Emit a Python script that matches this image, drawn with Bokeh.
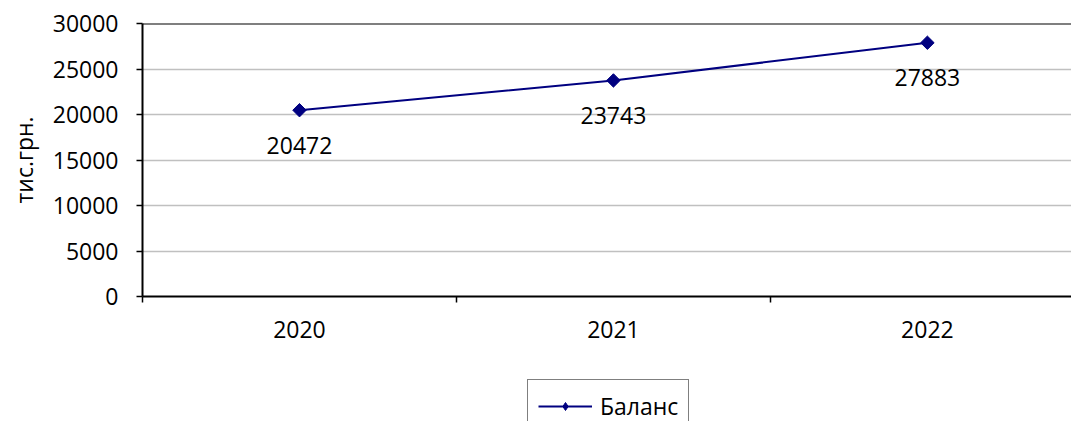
import math
from bokeh.plotting import figure
from bokeh.layouts import column
from bokeh.models import (Range1d, FixedTicker, ColumnDataSource, LabelSet,
                          Legend, LegendItem, Span)
from bokeh.core.properties import value
from bokeh.embed import file_html
from bokeh.resources import INLINE

years = ["2020", "2021", "2022"]
balance = [20472, 23743, 27883]
y_ticks = [0, 5000, 10000, 15000, 20000, 25000, 30000]
series_name = "Баланс"
y_label = "тис.грн."

FONT = "Open Sans"
FS = "23px"
LINE_C = "#000080"

xs = [i + 0.5 for i in range(len(years))]
src = ColumnDataSource(dict(x=xs, y=balance, lab=[str(v) for v in balance]))

p = figure(frame_width=929, frame_height=273, output_backend="svg", toolbar_location=None,
           x_range=Range1d(0, 2.959), y_range=Range1d(0, 30000),
           min_border_left=142, min_border_right=0, min_border_top=23,
           min_border_bottom=52)
p.outline_line_color = None
p.background_fill_color = "white"
p.border_fill_color = "white"

# grid
p.xgrid.visible = False
p.ygrid.ticker = FixedTicker(ticks=y_ticks)
p.ygrid.grid_line_color = "#c0c0c0"
p.ygrid.grid_line_width = 1.5

# top border
p.add_layout(Span(location=y_ticks[-1], dimension="width", line_color="black", line_width=2))

# x axis
xa = p.xaxis[0]
xa.ticker = FixedTicker(ticks=xs, minor_ticks=list(range(len(years) + 1)))
xa.major_label_overrides = {x: y for x, y in zip(xs, years)}
xa.major_tick_out = 0
xa.major_tick_in = 0
xa.minor_tick_out = 6
xa.minor_tick_in = 0
xa.minor_tick_line_color = "black"
xa.minor_tick_line_width = 1.5
xa.axis_line_color = "black"
xa.axis_line_width = 2
xa.major_label_text_font = FONT
xa.major_label_text_font_size = FS
xa.major_label_text_color = "black"
xa.major_label_standoff = 18

# y axis
ya = p.yaxis[0]
ya.ticker = FixedTicker(ticks=y_ticks)
ya.major_tick_out = 6
ya.major_tick_in = 0
ya.minor_tick_line_color = None
ya.major_tick_line_color = "black"
ya.major_tick_line_width = 1.5
ya.axis_line_color = "black"
ya.axis_line_width = 2
ya.major_label_text_font = FONT
ya.major_label_text_font_size = FS
ya.major_label_text_color = "black"
ya.major_label_standoff = 18
ya.axis_label = y_label
ya.axis_label_text_font = FONT
ya.axis_label_text_font_size = FS
ya.axis_label_text_font_style = "normal"
ya.axis_label_text_color = "black"
ya.axis_label_standoff = 10

ln = p.line("x", "y", source=src, line_color=LINE_C, line_width=2)
sc = p.scatter("x", "y", source=src, marker="square", size=9.5, angle=math.pi / 4,
               fill_color=LINE_C, line_color=LINE_C)

labels = LabelSet(x="x", y="y", text="lab", source=src, y_offset=-35,
                  text_align="center", text_baseline="middle",
                  text_font=value(FONT), text_font_size=value(FS), text_color="black")
p.add_layout(labels)

# legend strip below the chart (same frame width/borders as the chart)
p2 = figure(frame_width=929, height=73, output_backend="svg", toolbar_location=None,
            x_range=Range1d(100, 101), y_range=Range1d(100, 101),
            min_border_left=142, min_border_right=0, min_border_top=0,
            min_border_bottom=0)
p2.axis.visible = False
p2.grid.visible = False
p2.outline_line_color = None
p2.background_fill_color = "white"
p2.border_fill_color = "white"
ln2 = p2.line("x", "y", source=src, line_color=LINE_C, line_width=2)
sc2 = p2.scatter("x", "y", source=src, marker="diamond", size=15,
                 fill_color=LINE_C, line_color=LINE_C)
legend = Legend(items=[LegendItem(label=series_name, renderers=[ln2, sc2])],
                location=(385, -12), orientation="horizontal",
                border_line_color="black", border_line_width=1.5,
                background_fill_color="white", background_fill_alpha=1,
                label_text_font=FONT, label_text_font_size=FS,
                label_text_color="black",
                glyph_width=54, glyph_height=20, label_standoff=8,
                padding=10, margin=0, spacing=0)
p2.add_layout(legend, "center")

layout = column(p, p2, spacing=0)
open("out.html", "w").write(file_html(layout, INLINE))
